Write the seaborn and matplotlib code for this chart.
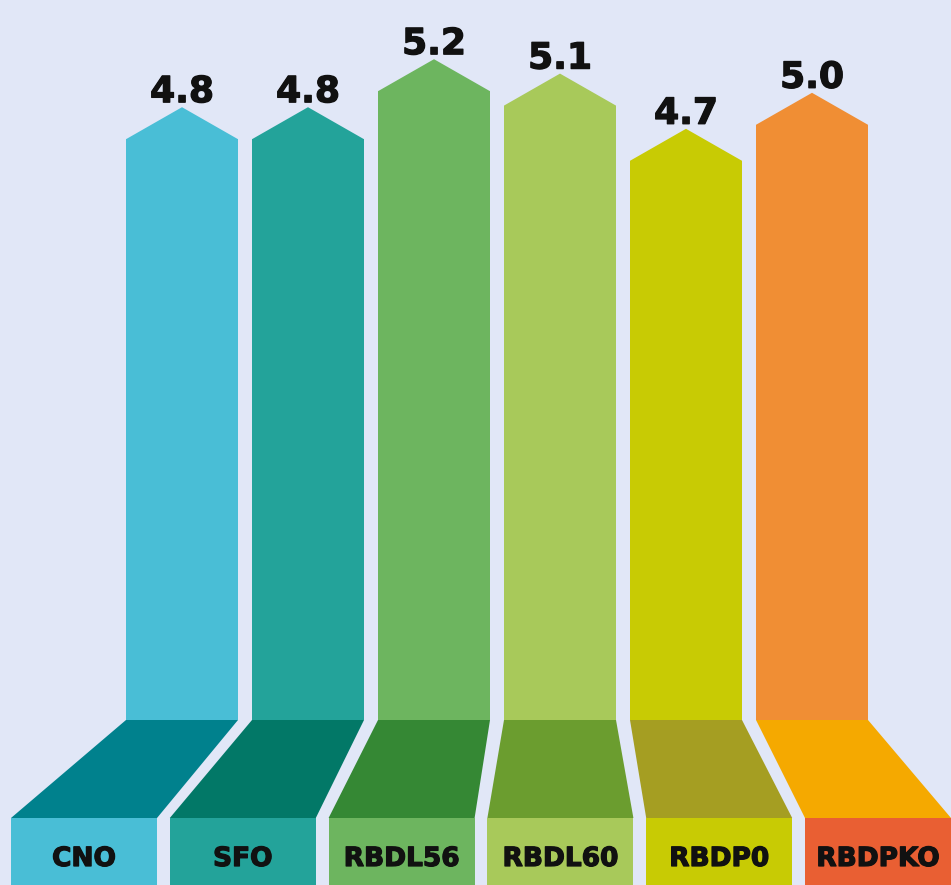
import matplotlib
matplotlib.use("Agg")
import matplotlib.pyplot as plt
from matplotlib.patches import Polygon, Rectangle
import matplotlib.patheffects as pe
import seaborn as sns
import pandas as pd

# ---- data ----
categories = ["CNO", "SFO", "RBDL56", "RBDL60", "RBDP0", "RBDPKO"]
values = [4.84, 4.84, 5.24, 5.12, 4.66, 4.96]
column_colors = ["#49BED6", "#23A39A", "#6DB55F", "#A8C95A", "#C8CB04", "#F08E34"]
base_colors = ["#00818D", "#027867", "#358834", "#6B9D2F", "#A59E22", "#F5A900"]
box_colors = ["#49BED6", "#23A39A", "#6DB55F", "#A8C95A", "#C8CB04", "#E95F33"]

BG = "#E1E7F7"
PX = 120.0  # pixels per value unit
head_h = 32 / PX
base_depth = 98 / PX
box_w = 146 / 126
box_step = 158.8 / 126
box_c0 = (84 - 182) / 126

sns.set_theme(style="white")
plt.rcParams["font.family"] = ["DejaVu Sans"]

fig = plt.figure(figsize=(9.51, 8.85), dpi=100, facecolor=BG)
ax = fig.add_axes([0, 0, 1, 1])
ax.set_facecolor(BG)

df = pd.DataFrame({"cat": categories, "val": values})
sns.barplot(data=df, x="cat", y="val", hue="cat", palette=column_colors,
            width=112 / 126, linewidth=0, legend=False, ax=ax, saturation=1)

ax.set_xlim(-182 / 126, (951 - 182) / 126)
ax.set_ylim(-(885 - 720) / PX, 720 / PX)
ax.axis("off")

thick = [pe.withStroke(linewidth=0.9, foreground="#111111")]

bars = sorted(ax.patches, key=lambda p: p.get_x())
for i, p in enumerate(bars):
    x0 = p.get_x()
    w = p.get_width()
    x1 = x0 + w
    xc = x0 + w / 2
    v = p.get_height()
    # arrow head
    ax.add_patch(Polygon([(x0, v - 0.005), (x0, v), (xc, v + head_h), (x1, v), (x1, v - 0.005)],
                         closed=True, facecolor=column_colors[i], edgecolor="none", zorder=3))
    # value label
    ax.text(xc, v + head_h + 5 / PX, f"{values[i]:.1f}", ha="center", va="baseline",
            fontsize=26, fontweight="bold", color="#111111", zorder=5, path_effects=thick)
    # perspective base
    bc = box_c0 + box_step * i
    bx0, bx1 = bc - box_w / 2, bc + box_w / 2
    ax.add_patch(Polygon([(x0, 0), (x1, 0), (bx1, -base_depth), (bx0, -base_depth)],
                         closed=True, facecolor=base_colors[i], edgecolor="none", zorder=3))
    # label box
    ax.add_patch(Rectangle((bx0, -(885 - 720) / PX - 0.05), box_w, (885 - 720) / PX + 0.05 - base_depth,
                           facecolor=box_colors[i], edgecolor="none", zorder=3))
    ax.text(bc, -(859 - 720) / PX, categories[i], ha="center", va="center",
            fontsize=19, fontweight="bold", color="#111111", zorder=5, path_effects=thick)

fig.savefig("out.png", dpi=100, facecolor=BG)
